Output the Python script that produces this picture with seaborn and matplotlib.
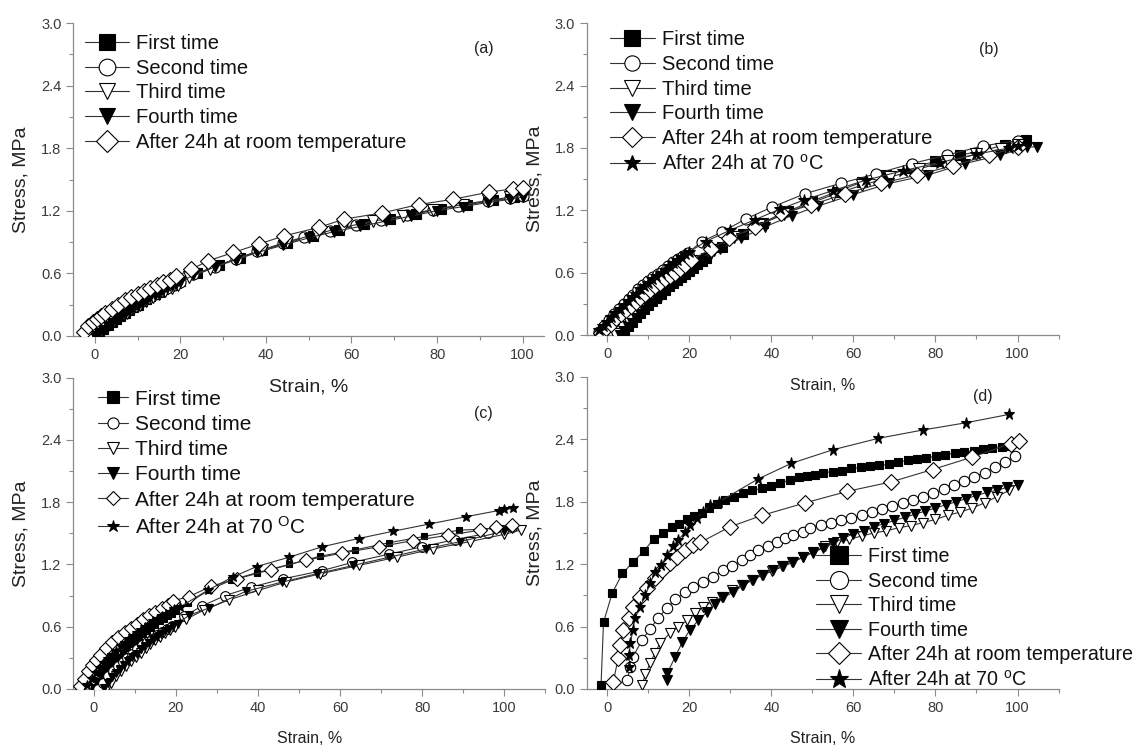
import numpy as np
import matplotlib
matplotlib.use("Agg")
import matplotlib.pyplot as plt
import seaborn as sns
from matplotlib.lines import Line2D
from matplotlib.ticker import MultipleLocator

sns.set_style("ticks")
plt.rcParams['font.family'] = ['Liberation Sans', 'DejaVu Sans']
plt.rcParams['mathtext.fontset'] = 'custom'
plt.rcParams['mathtext.rm'] = 'Liberation Sans'
plt.rcParams['mathtext.it'] = 'Liberation Sans:italic'
plt.rcParams['mathtext.bf'] = 'Liberation Sans:bold'

# ---------------- data ----------------
series_names = ["First time", "Second time", "Third time", "Fourth time",
                "After 24h at room temperature", "After 24h at 70 C"]

# panel (a)
a_first_x = [0,1,2,3,4,5,6,7,8,9,10,11,12,13,14,15,16,17,18,19,20,24,29,34,39,45,51,57,63,69,75,81,87,93,98,100]
a_first_y = [0.01,0.04,0.07,0.10,0.13,0.16,0.19,0.22,0.25,0.28,0.30,0.33,0.35,0.38,0.40,0.42,0.45,0.47,0.49,0.51,0.53,
             0.60,0.68,0.75,0.82,0.89,0.96,1.02,1.07,1.12,1.17,1.22,1.26,1.30,1.33,1.35]
a_second_x = [-1,0.5,2,3.5,5,6.5,8,9.5,11,12.5,14,15.5,17,18.5,20,23,28,33,38,44,49,55,61,67,73,79,85,92,97,100]
a_second_y = [0.02,0.06,0.10,0.14,0.18,0.22,0.26,0.29,0.33,0.36,0.40,0.43,0.46,0.49,0.52,0.59,0.66,0.74,0.81,0.89,
              0.95,1.01,1.06,1.11,1.16,1.21,1.25,1.29,1.32,1.34]
a_third_x = [0,1.5,3,4.5,6,7.5,9,10.5,12,13.5,15,16.5,18,19.5,22,27,33,39,45,52,58,65,72,79,86,92,97,100]
a_third_y = [0.01,0.05,0.10,0.14,0.18,0.22,0.26,0.30,0.33,0.37,0.40,0.43,0.46,0.49,0.56,0.64,0.74,0.82,0.90,0.98,
             1.04,1.10,1.15,1.21,1.26,1.30,1.33,1.35]
a_fourth_x = [0,1,2,3,4,5,6,7,8,9,10,11,12,13,14,15,16,17,18,19,20,23,28,33,38,44,50,56,62,68,74,80,86,92,97,100]
a_fourth_y = [0.0,0.03,0.06,0.09,0.12,0.15,0.18,0.21,0.24,0.27,0.29,0.32,0.34,0.37,0.39,0.41,0.44,0.46,0.48,0.50,0.52,
              0.58,0.66,0.73,0.80,0.87,0.94,1.00,1.05,1.10,1.15,1.20,1.24,1.28,1.31,1.33]
a_room_x = [-2.5,-1.5,-0.5,0.5,1.5,2.5,4,5.5,7,8.5,10,11.5,13,14.5,16,17.5,19,22.6,26.5,32.4,38.3,44.3,52.3,58.3,
            67.2,75.7,83.7,92.2,97.7,100]
a_room_y = [0.04,0.09,0.13,0.16,0.19,0.22,0.26,0.30,0.34,0.37,0.40,0.43,0.46,0.49,0.52,0.54,0.57,0.64,0.72,0.80,
            0.88,0.96,1.04,1.12,1.18,1.26,1.31,1.38,1.41,1.42]

# panel (b)
b_first_x = [3,4,5,6,7,8,9,10,11,12,13,14,15,16,17,18,19,20,21,22,23,24,28,33,38,44,50,56,62,68,74,80,86,92,97,102]
b_first_y = [0.01,0.05,0.09,0.13,0.17,0.21,0.25,0.29,0.33,0.36,0.40,0.43,0.47,0.50,0.53,0.56,0.59,0.62,0.65,0.68,0.71,0.74,
             0.85,0.97,1.08,1.19,1.29,1.38,1.47,1.54,1.61,1.67,1.73,1.78,1.83,1.88]
b_second_x = [-2,-0.8,0.4,1.6,2.8,4,5.2,6.4,7.6,8.8,10,11.2,12.4,13.6,14.8,16,17.2,18.4,19.6,
              23.1,27.9,33.9,40.1,48.2,56.9,65.4,74.2,82.7,91.5,100]
b_second_y = [0.03,0.09,0.15,0.20,0.25,0.30,0.35,0.39,0.44,0.48,0.52,0.56,0.59,0.63,0.66,0.70,0.73,0.76,0.79,
              0.90,0.99,1.12,1.23,1.36,1.46,1.55,1.65,1.73,1.82,1.87]
b_third_x = [2,3.5,5,6.5,8,9.5,11,12.5,14,15.5,17,18.5,20,22,26,31,37,43,49,55,62,69,76,83,90,96,100]
b_third_y = [0.01,0.08,0.15,0.21,0.27,0.33,0.38,0.43,0.48,0.52,0.57,0.61,0.65,0.71,0.82,0.94,1.06,1.16,1.26,1.35,
             1.44,1.52,1.60,1.67,1.74,1.79,1.83]
b_fourth_x = [3,4,5,6,7,8,9,10,11,12,13,14,15,16,17,18,19,20,21,22,23,25.4,27.6,32.5,38.4,45,51.3,59.8,68.8,78.2,
              87.2,95.7,102.4,104.7]
b_fourth_y = [0.0,0.04,0.08,0.12,0.16,0.20,0.24,0.28,0.31,0.35,0.38,0.41,0.45,0.48,0.51,0.54,0.57,0.60,0.63,0.68,0.71,
              0.78,0.83,0.93,1.04,1.15,1.24,1.35,1.46,1.54,1.65,1.73,1.81,1.81]
b_room_x = [-1.5,-0.3,0.9,2.1,3.3,4.5,5.7,6.9,8.1,9.3,10.5,11.7,12.9,14.1,15.3,16.5,17.7,18.9,20.4,
            25.4,29.8,36.1,42.4,49.6,58,66.8,75.5,84.3,93,100]
b_room_y = [0.02,0.07,0.11,0.16,0.20,0.24,0.28,0.32,0.36,0.40,0.43,0.47,0.50,0.54,0.57,0.60,0.64,0.67,0.72,
            0.83,0.93,1.04,1.17,1.25,1.36,1.46,1.54,1.63,1.73,1.81]
b_hot_x = [-2,-1,0,1,2,3,4,5,6,7,8,9,10,11,12,13,14,15,16,17,18,19,20,24,30,36,42,48,55,63,72,81,90,98,100]
b_hot_y = [0.05,0.09,0.13,0.17,0.21,0.25,0.29,0.33,0.37,0.40,0.44,0.47,0.50,0.54,0.57,0.60,0.63,0.66,0.69,0.72,0.75,
           0.78,0.80,0.90,1.01,1.11,1.21,1.30,1.39,1.49,1.58,1.66,1.74,1.80,1.82]

# panel (c)
c_first_x = [0,1,2,3,4,5,6,7,8,9,10,11,12,13,14,15,16,17,18,19,20,23,28,33.5,39.7,47.6,55.2,63.6,72,80.5,88.9,100,102.2]
c_first_y = [0.02,0.08,0.13,0.18,0.23,0.27,0.31,0.35,0.39,0.43,0.46,0.50,0.53,0.56,0.59,0.62,0.65,0.67,0.70,0.72,0.75,
             0.83,0.95,1.05,1.12,1.20,1.28,1.34,1.41,1.47,1.53,1.55,1.56]
c_second_x = [1,2.2,3.4,4.6,5.8,7,8.2,9.4,10.6,11.8,13,14.2,15.4,16.6,17.8,19,22,26.4,32,38.3,46,55.6,63,72,80,88,96,101.8]
c_second_y = [0.0,0.06,0.12,0.17,0.22,0.26,0.30,0.34,0.38,0.42,0.45,0.48,0.52,0.55,0.58,0.61,0.70,0.80,0.90,0.98,
              1.06,1.14,1.22,1.30,1.37,1.44,1.50,1.56]
c_third_x = [3,4.2,5.4,6.6,7.8,9,10.2,11.4,12.6,13.8,15,16.2,17.4,18.6,19.8,22.4,26.8,33,40.1,46.8,55.2,64.5,73.8,
             82.7,91.6,100,104]
c_third_y = [0.0,0.06,0.12,0.17,0.22,0.27,0.31,0.35,0.39,0.43,0.47,0.50,0.54,0.57,0.60,0.67,0.76,0.86,0.95,1.03,
             1.11,1.19,1.27,1.35,1.42,1.49,1.53]
c_fourth_x = [2.4,3.4,4.4,5.4,6.4,7.4,8.4,9.4,10.4,11.4,12.4,13.4,14.4,15.4,16.4,17.4,18.4,19.4,20.4,
              23.2,28.1,37,45.9,54.3,63.2,72,81,89.3,100,102]
c_fourth_y = [0.01,0.06,0.11,0.15,0.19,0.23,0.27,0.31,0.34,0.38,0.41,0.44,0.47,0.50,0.53,0.56,0.58,0.61,0.63,
              0.71,0.78,0.94,1.03,1.11,1.19,1.27,1.35,1.42,1.52,1.54]
c_room_x = [-3.4,-2.5,-1.5,-0.5,0.5,1.5,3,4.5,6,7.5,9,10.5,12,13.5,15,16.5,18,19.3,23.2,28.6,34.8,43.2,51.6,60.5,
            69.4,77.8,86.2,94,98,101.8]
c_room_y = [0.03,0.10,0.17,0.23,0.28,0.33,0.39,0.45,0.50,0.55,0.59,0.63,0.67,0.71,0.74,0.78,0.81,0.85,0.89,0.99,
            1.06,1.15,1.24,1.31,1.37,1.43,1.48,1.53,1.56,1.58]
c_hot_x = [-1.6,-0.5,0.5,1.5,2.5,3.5,4.5,5.5,6.5,7.5,8.5,9.5,10.5,11.5,12.5,13.5,14.5,15.5,16.5,17.5,18.5,19.5,
           21,27.7,33.9,39.7,47.6,55.6,64.5,72.9,81.8,90.7,98.7,100,102.2]
c_hot_y = [0.04,0.10,0.15,0.20,0.25,0.29,0.33,0.37,0.41,0.44,0.48,0.51,0.54,0.57,0.60,0.62,0.65,0.67,0.70,0.72,0.74,0.77,
           0.79,0.95,1.08,1.18,1.27,1.37,1.45,1.52,1.59,1.66,1.72,1.73,1.74]

# panel (d)
d_first_x = [-1.5,-0.9,1.2,3.7,6.3,9,11.3,13.7,15.8,17.6,19.4,21.2,23.1,24.9,26.7,28.7,30.8,33.1,35.3,37.8,
             39.8,42.2,44.6,46.7,48.7,50.7,52.7,55,57.2,59.5,61.8,64,66.3,68.6,70.9,73.2,75.5,77.8,80.1,82.4,
             84.7,87,89.3,91.6,93.9,96.2,98]
d_first_y = [0.04,0.64,0.92,1.11,1.22,1.33,1.44,1.50,1.56,1.59,1.63,1.66,1.69,1.74,1.78,1.82,1.85,1.88,1.91,1.93,
             1.95,1.98,2.01,2.04,2.05,2.06,2.08,2.09,2.10,2.12,2.13,2.14,2.15,2.16,2.18,2.20,2.21,2.22,2.24,2.25,
             2.27,2.28,2.29,2.31,2.32,2.33,2.34]
d_second_x = [4.9,5.6,6.3,8.5,10.5,12.4,14.6,16.6,19,21,23.4,25.9,28.3,30.5,32.9,34.9,36.8,39.3,41.5,43.4,
              45.4,47.6,49.5,52,54.5,57,59.5,62,64.5,67,69.5,72,74.5,77,79.5,82,84.5,87,89.5,92,94.5,97,99.5]
d_second_y = [0.09,0.21,0.31,0.47,0.58,0.68,0.78,0.86,0.93,0.98,1.03,1.08,1.14,1.18,1.24,1.29,1.34,1.37,1.41,1.45,
              1.48,1.51,1.55,1.58,1.60,1.62,1.64,1.67,1.70,1.73,1.76,1.79,1.82,1.85,1.88,1.92,1.96,2.00,2.04,2.08,
              2.13,2.18,2.24]
d_third_x = [8.5,9.3,10.5,11.7,12.9,15.4,17.3,19.5,21.5,23.4,25.6,28,30.5,32.9,35.4,37.8,40.2,42.7,45.1,47.8,
             50.2,53.2,56,59,62,65,68,71,74,77,80,83,86,89,92,95,98]
d_third_y = [0.04,0.14,0.25,0.35,0.44,0.54,0.60,0.66,0.73,0.79,0.84,0.88,0.95,1.00,1.05,1.10,1.13,1.18,1.22,1.27,
             1.32,1.37,1.41,1.44,1.47,1.50,1.52,1.55,1.57,1.60,1.63,1.67,1.70,1.74,1.79,1.85,1.91]
d_fourth_x = [14.6,14.6,16.6,18.3,20.2,22.2,24.4,26.3,28.3,30.7,33.2,35.6,38,40.5,42.9,45.4,47.8,50.2,52.7,55,
              57.5,60,62.5,65,67.5,70,72.5,75,77.5,80,82.5,85,87.5,90,92.5,95,97.5,100]
d_fourth_y = [0.09,0.15,0.31,0.45,0.57,0.66,0.74,0.82,0.88,0.93,1.00,1.05,1.10,1.14,1.18,1.22,1.27,1.31,1.36,1.40,
              1.45,1.49,1.52,1.56,1.59,1.62,1.65,1.68,1.71,1.74,1.77,1.80,1.83,1.86,1.89,1.91,1.94,1.96]
d_room_x = [1.5,2.7,3.2,3.9,5.2,6.3,8,9.8,11.7,13.4,15.4,17.1,19,21,22.7,30,37.8,48.3,58.5,69.1,79.3,89,98.4,100.4]
d_room_y = [0.07,0.30,0.42,0.57,0.68,0.79,0.88,0.97,1.07,1.14,1.21,1.27,1.34,1.38,1.41,1.56,1.67,1.79,1.90,1.99,
            2.11,2.23,2.36,2.38]
d_hot_x = [5.4,5.4,5.6,6.3,6.8,8,9.3,10.5,11.7,13.2,14.6,16.1,17.3,19,20.2,21.9,23.4,25.1,27.3,36.8,44.9,
           55,66.1,76.9,87.5,97.9]
d_hot_y = [0.21,0.33,0.44,0.57,0.68,0.79,0.90,1.02,1.12,1.19,1.29,1.37,1.43,1.51,1.58,1.64,1.70,1.77,1.80,2.02,2.17,
           2.30,2.41,2.49,2.56,2.64]

y_ticks = [0.0, 0.6, 1.2, 1.8, 2.4, 3.0]
x_ticks = [0, 20, 40, 60, 80, 100]

# ---------------- style ----------------
marker_styles = [("s", "black"), ("o", "white"), ("v", "white"), ("v", "black"), ("D", "white"), ("*", "black")]
LINE = "#333333"
AX = "#8a8a8a"
TXT = "#3a3a3a"

fig = plt.figure(figsize=(11.37, 7.48), dpi=100)

panels = [
    dict(pos=[0.0645, 0.551, 0.414, 0.418], xlim=(-5, 105), tag="(a)", tagxy=(91, 2.76),
         series=[(a_first_x, a_first_y), (a_second_x, a_second_y), (a_third_x, a_third_y),
                 (a_fourth_x, a_fourth_y), (a_room_x, a_room_y)],
         ms=[6.5, 8, 8, 7, 8.5], hot_label=None,
         leg=dict(anchor=(0.024, 0.965), ms=12, fs=14.5, hl=2.2, xfs=14, ls=0.28),
         ),
    dict(pos=[0.516, 0.552, 0.415, 0.417], xlim=(-5, 110), tag="(b)", tagxy=(93, 2.75),
         series=[(b_first_x, b_first_y), (b_second_x, b_second_y), (b_third_x, b_third_y),
                 (b_fourth_x, b_fourth_y), (b_room_x, b_room_y), (b_hot_x, b_hot_y)],
         ms=[6.5, 8, 8, 7, 8.5, 8], hot_label=r"After 24h at 70 $^{\mathrm{o}}$C",
         leg=dict(anchor=(0.05, 0.977), ms=11, fs=14.5, hl=2.2, xfs=11.5, ls=0.28),
         ),
    dict(pos=[0.0645, 0.079, 0.415, 0.416], xlim=(-5, 110), tag="(c)", tagxy=(95, 2.66),
         series=[(c_first_x, c_first_y), (c_second_x, c_second_y), (c_third_x, c_third_y),
                 (c_fourth_x, c_fourth_y), (c_room_x, c_room_y), (c_hot_x, c_hot_y)],
         ms=[5, 7, 7, 6, 7.5, 6.5], hot_label=r"After 24h at 70 $^{\mathrm{O}}$C",
         leg=dict(anchor=(0.052, 0.962), ms=8, fs=15, hl=1.45, xfs=11.5, ls=0.3),
         ),
    dict(pos=[0.516, 0.079, 0.415, 0.417], xlim=(-5, 110), tag="(d)", tagxy=(91.5, 2.81),
         series=[(d_first_x, d_first_y), (d_second_x, d_second_y), (d_third_x, d_third_y),
                 (d_fourth_x, d_fourth_y), (d_room_x, d_room_y), (d_hot_x, d_hot_y)],
         ms=[6, 7.5, 7.5, 7, 8.5, 7], hot_label=r"After 24h at 70 $^{\mathrm{o}}$C",
         leg=dict(anchor=(0.487, 0.454), ms=13, fs=14.2, hl=2.25, xfs=11.5, ls=0.28),
         ),
]

for p in panels:
    ax = fig.add_axes(p["pos"])
    ax.set_facecolor("none")
    for i, (xs, ys) in enumerate(p["series"]):
        m, fc = marker_styles[i]
        ms = p["ms"][i]
        if m == "*":
            ms = ms * 1.15
        sns.lineplot(x=np.array(xs, dtype=float), y=np.array(ys, dtype=float), ax=ax,
                     estimator=None, sort=False, legend=False, color=LINE, lw=0.8,
                     marker=m, markersize=ms, markerfacecolor=fc, markeredgecolor="black",
                     markeredgewidth=0.8, zorder=3 + i)
    ax.set_xlim(*p["xlim"])
    ax.set_ylim(0, 3.0)
    ax.set_xticks(x_ticks)
    ax.set_yticks(y_ticks)
    ax.set_yticklabels([f"{v:.1f}" for v in y_ticks])
    ax.xaxis.set_minor_locator(MultipleLocator(10))
    ax.yaxis.set_minor_locator(MultipleLocator(0.3))
    ax.tick_params(which="both", direction="out", color=AX, width=0.8, labelcolor=TXT, labelsize=10.5)
    ax.tick_params(which="major", length=5)
    ax.tick_params(which="minor", length=3)
    for s in ["top", "right"]:
        ax.spines[s].set_visible(False)
    for s in ["left", "bottom"]:
        ax.spines[s].set_color(AX)
        ax.spines[s].set_linewidth(0.9)
    ax.set_xlabel("Strain, %", fontsize=p["leg"]["xfs"], color="#222222", labelpad=12)
    ax.set_ylabel("Stress, MPa", fontsize=14, color="#222222", labelpad=8)
    ax.text(p["tagxy"][0], p["tagxy"][1], p["tag"], fontsize=11.5, color="#222222", ha="center", va="center")

    handles = []
    labels = []
    for i in range(len(p["series"])):
        m, fc = marker_styles[i]
        lms = p["leg"]["ms"] * (1.1 if m == "*" else (0.9 if m == "D" else 1.0))
        handles.append(Line2D([0], [0], color=LINE, lw=0.8, marker=m, markersize=lms,
                              markerfacecolor=fc, markeredgecolor="black", markeredgewidth=0.8))
        if i == 5:
            labels.append(p["hot_label"])
        else:
            labels.append(series_names[i])
    leg = ax.legend(handles, labels, loc="upper left", bbox_to_anchor=p["leg"]["anchor"], frameon=False,
                    fontsize=p["leg"]["fs"], handlelength=p["leg"]["hl"], handletextpad=0.35,
                    labelspacing=p["leg"]["ls"], borderpad=0, borderaxespad=0)
    for t in leg.get_texts():
        t.set_color("#111111")

fig.savefig("out.png", dpi=100)
